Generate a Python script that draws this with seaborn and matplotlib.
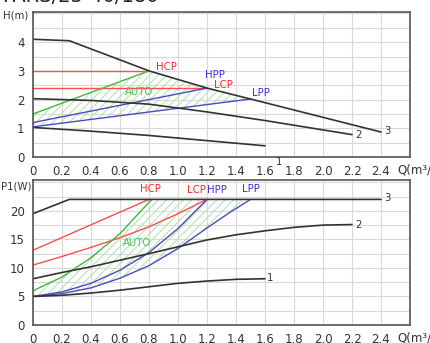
import numpy as np
import pandas as pd
import matplotlib
matplotlib.use("Agg")
import matplotlib.pyplot as plt
import seaborn as sns
from matplotlib.ticker import MultipleLocator, FixedLocator

# ---- Head curves H(Q) ----
h3_q = [0.0, 0.25, 0.8, 1.2, 1.5, 2.4]
h3_h = [4.1, 4.05, 3.0, 2.4, 2.02, 0.87]
h2_q = [0.0, 0.4, 0.8, 1.2, 1.6, 2.2]
h2_h = [2.03, 1.97, 1.84, 1.57, 1.27, 0.78]
h1_q = [0.0, 0.4, 0.8, 1.2, 1.6]
h1_h = [1.03, 0.9, 0.75, 0.57, 0.39]
hcp_q = [0.0, 0.8]
hcp_h = [3.0, 3.0]
lcp_q = [0.0, 1.2]
lcp_h = [2.4, 2.4]
auto_q = [0.0, 0.8]
auto_h = [1.5, 3.0]
hpp_q = [0.0, 1.2]
hpp_h = [1.2, 2.4]
lpp_q = [0.0, 1.5]
lpp_h = [1.05, 2.02]

# ---- Power curves P1(Q) ----
p3_q = [0.0, 0.25, 2.4]
p3_p = [19.5, 22.0, 22.0]
p2_q = [0.0, 0.2, 0.4, 0.8, 1.2, 1.4, 1.6, 1.8, 2.0, 2.2]
p2_p = [8.1, 9.2, 10.2, 12.5, 14.9, 15.8, 16.5, 17.1, 17.5, 17.6]
p1_q = [0.0, 0.2, 0.4, 0.6, 0.8, 1.0, 1.2, 1.4, 1.6]
p1_p = [5.0, 5.2, 5.6, 6.1, 6.7, 7.3, 7.7, 8.0, 8.1]
phcp_q = [0.0, 0.8]
phcp_p = [13.1, 22.0]
plcp_q = [0.0, 0.2, 0.4, 0.6, 0.8, 1.0, 1.2]
plcp_p = [10.5, 12.0, 13.6, 15.3, 17.2, 19.5, 22.0]
pauto_q = [0.0, 0.2, 0.4, 0.6, 0.8, 0.82]
pauto_p = [6.0, 8.4, 11.8, 16.0, 21.5, 22.0]
phpp_q = [0.0, 0.2, 0.4, 0.6, 0.8, 1.0, 1.2]
phpp_p = [5.0, 5.8, 7.3, 9.6, 12.7, 16.9, 22.0]
plpp_q = [0.0, 0.2, 0.4, 0.6, 0.8, 1.0, 1.2, 1.35, 1.5]
plpp_p = [5.0, 5.5, 6.5, 8.2, 10.4, 13.4, 17.0, 19.6, 22.0]

x_ticks = [0.0, 0.2, 0.4, 0.6, 0.8, 1.0, 1.2, 1.4, 1.6, 1.8, 2.0, 2.2, 2.4]
x_labels = ["0", "0.2", "0.4", "0.6", "0.8", "1.0", "1.2", "1.4", "1.6", "1.8", "2.0", "2.2", "2.4"]
h_ticks = [0, 1, 2, 3, 4]
p_ticks = [0, 5, 10, 15, 20]

sns.set_style("white")
plt.rcParams["font.family"] = ["DejaVu Sans"]
plt.rcParams["hatch.linewidth"] = 0.7

BLACK = "#333333"
RED = "#ff4d4d"
BLUE = "#4a4ac0"
GREEN = "#40b840"
HATCH = "#b0e0b0"
RED_T = "#ff2222"
BLUE_T = "#3a2ee0"
GREEN_T = "#4cc04c"
GRID = "#d9d9d9"
FS = 8.5   # tick labels
LS = 7.3   # curve labels
AS = 7.3   # axis names

W, H = 430, 343
fig = plt.figure(figsize=(W / 100, H / 100), dpi=100)


def px_axes(left, right, top, bottom):
    return fig.add_axes([left / W, (H - bottom) / H, (right - left) / W, (bottom - top) / H])


ax1 = px_axes(33, 410, 12, 157)
ax2 = px_axes(33, 410, 180, 325)


def line(ax, q, v, color, lw):
    sns.lineplot(x=q, y=v, ax=ax, color=color, linewidth=lw, sort=False,
                 estimator=None, legend=False)


def style(ax, ymax, yticks, ymin):
    ax.set_xlim(0, 2.6)
    ax.set_ylim(0, ymax)
    ax.set_xticks(x_ticks + [2.6])
    ax.set_xticklabels(x_labels + [""])
    ax.xaxis.set_minor_locator(MultipleLocator(0.1))
    ax.yaxis.set_major_locator(FixedLocator(yticks))
    ax.set_yticklabels([str(t) for t in yticks])
    ax.yaxis.set_minor_locator(MultipleLocator(ymin))
    ax.grid(True, which="major", axis="x", color=GRID, lw=0.8)
    ax.grid(True, which="both", axis="y", color=GRID, lw=0.8)
    ax.set_axisbelow(True)
    for s in ax.spines.values():
        s.set_color("#555555")
        s.set_linewidth(1.2)
    ax.tick_params(axis="both", which="major", direction="out", length=4, width=1,
                   color="#444444", labelsize=FS, labelcolor="#333333", pad=2)
    ax.tick_params(axis="x", which="minor", direction="in", length=3, width=1, color="#444444")
    ax.tick_params(axis="y", which="minor", direction="out", length=2.5, width=1, color="#444444")
    ax.set_xlabel("")
    ax.set_ylabel("")
    ax.text(2.51, -0.045, "Q(m³/h)", transform=ax.get_xaxis_transform(), ha="left",
            va="top", fontsize=FS, color="#333333", clip_on=False)


# ---------- Head chart ----------
xs = np.linspace(0, 1.5, 301)
upper = np.where(xs <= 0.8, np.interp(xs, auto_q, auto_h), np.interp(xs, h3_q, h3_h))
lower = np.interp(xs, lpp_q, lpp_h)
ax1.fill_between(xs, lower, upper, facecolor="none", edgecolor=HATCH, hatch="////", linewidth=0)

line(ax1, hcp_q, hcp_h, RED, 1.0)
line(ax1, lcp_q, lcp_h, RED, 1.0)
line(ax1, auto_q, auto_h, GREEN, 1.0)
line(ax1, hpp_q, hpp_h, BLUE, 1.0)
line(ax1, lpp_q, lpp_h, BLUE, 1.0)
line(ax1, h1_q, h1_h, BLACK, 1.2)
line(ax1, h2_q, h2_h, BLACK, 1.2)
line(ax1, h3_q, h3_h, BLACK, 1.2)
style(ax1, 5.05, h_ticks, 0.5)

ax1.text(0.85, 3.13, "HCP", color=RED_T, fontsize=LS, ha="left", va="center")
ax1.text(1.255, 2.85, "HPP", color=BLUE_T, fontsize=LS, ha="center", va="center")
ax1.text(1.31, 2.5, "LCP", color=RED_T, fontsize=LS, ha="center", va="center")
ax1.text(1.57, 2.23, "LPP", color=BLUE_T, fontsize=LS, ha="center", va="center")
ax1.text(0.73, 2.26, "AUTO", color=GREEN_T, fontsize=LS, ha="center", va="center")
ax1.text(2.225, 0.77, "2", color=BLACK, fontsize=LS, ha="left", va="center")
ax1.text(2.42, 0.9, "3", color=BLACK, fontsize=LS, ha="left", va="center")
ax1.text(1.7, -0.16, "1", color=BLACK, fontsize=LS, ha="center", va="center", clip_on=False)
ax1.text(-0.013, 0.979, "H(m)", transform=ax1.transAxes, color="#333333", fontsize=AS,
         ha="right", va="center")

# ---------- Power chart ----------
xs2 = np.linspace(0, 1.5, 301)
upper2 = np.minimum(np.interp(xs2, pauto_q, pauto_p, right=22.0), 22.0)
lower2 = np.interp(xs2, plpp_q, plpp_p)
ax2.fill_between(xs2, lower2, upper2, facecolor="none", edgecolor=HATCH, hatch="////", linewidth=0)

line(ax2, phcp_q, phcp_p, RED, 1.0)
line(ax2, plcp_q, plcp_p, RED, 1.0)
line(ax2, pauto_q, pauto_p, GREEN, 1.0)
line(ax2, phpp_q, phpp_p, BLUE, 1.0)
line(ax2, plpp_q, plpp_p, BLUE, 1.0)
line(ax2, p1_q, p1_p, BLACK, 1.2)
line(ax2, p2_q, p2_p, BLACK, 1.2)
line(ax2, p3_q, p3_p, BLACK, 1.2)
style(ax2, 25.4, p_ticks, 2.5)

ax2.text(0.81, 23.8, "HCP", color=RED_T, fontsize=LS, ha="center", va="center")
ax2.text(1.125, 23.6, "LCP", color=RED_T, fontsize=LS, ha="center", va="center")
ax2.text(1.27, 23.6, "HPP", color=BLUE_T, fontsize=LS, ha="center", va="center")
ax2.text(1.5, 23.8, "LPP", color=BLUE_T, fontsize=LS, ha="center", va="center")
ax2.text(0.715, 14.3, "AUTO", color=GREEN_T, fontsize=LS, ha="center", va="center")
ax2.text(1.615, 8.15, "1", color=BLACK, fontsize=LS, ha="left", va="center")
ax2.text(2.225, 17.5, "2", color=BLACK, fontsize=LS, ha="left", va="center")
ax2.text(2.42, 22.2, "3", color=BLACK, fontsize=LS, ha="left", va="center")
ax2.text(-0.003, 0.952, "P1(W)", transform=ax2.transAxes, color="#333333", fontsize=AS,
         ha="right", va="center")

fig.text(0.005, 1 - 1.5 / H, "PARS/25-40/180", fontsize=14, color="#222222",
         ha="left", va="baseline")

fig.savefig("out.png", dpi=100)
